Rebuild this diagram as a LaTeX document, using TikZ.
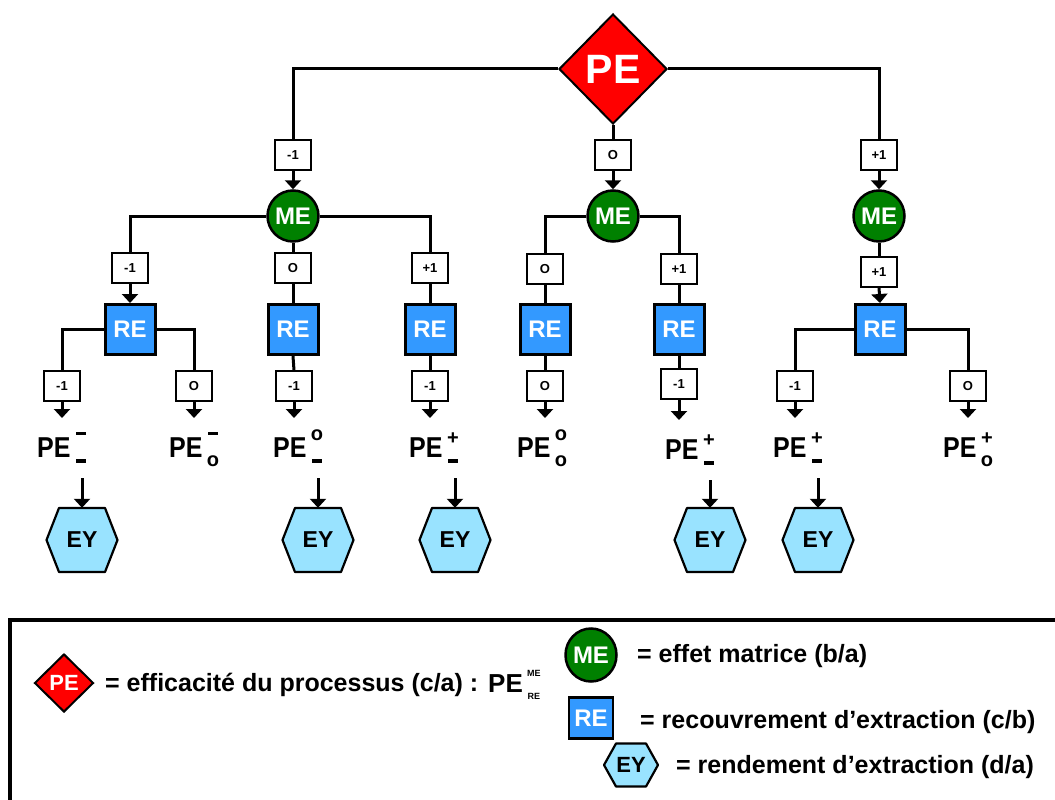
\documentclass[tikz,border=0pt]{standalone}
\usepackage{fontspec}
\setmainfont{Liberation Sans}
\usetikzlibrary{shapes.geometric,arrows.meta}
\definecolor{pered}{HTML}{FF0000}
\definecolor{megreen}{HTML}{008000}
\definecolor{reblue}{HTML}{3399FF}
\definecolor{eyblue}{HTML}{99E3FF}
\newcommand\fsz[1]{\fontsize{#1pt}{#1pt}\selectfont\bfseries}
\newcommand\supsub[2]{\makebox[11pt]{#1}\llap{\makebox[11pt]{#2}}}
\newcommand\Sdash{\raisebox{22pt}[0pt][0pt]{\rule{10pt}{3.5pt}}}
\newcommand\Bdash{\raisebox{-6pt}[0pt][0pt]{\rule{10pt}{4pt}}}
\newcommand\So{\raisebox{17pt}[0pt][0pt]{\fsz{20}o}}
\newcommand\Bo{\raisebox{-9pt}[0pt][0pt]{\fsz{20}o}}
\newcommand\Splus{\raisebox{13pt}[0pt][0pt]{\fsz{20}+}}
\newcommand\PEleaf[2]{\scalebox{1}[1.15]{PE}\hspace{5pt}\supsub{#1}{#2}}
\newcommand\hexpath[5]{\path[#5, shift={#1}] (-#2,0) -- (-#3,-#4) -- (#3,-#4) -- (#2,0) -- (#3,#4) -- (-#3,#4) -- cycle;}
\begin{document}
\begin{tikzpicture}[x=1pt,y=-1pt,
  ln/.style={line width=3pt},
  arr/.style={line width=3pt,-{Triangle[width=16pt,length=9pt]}},
  lab/.style={draw, line width=1.2pt, fill=white, minimum width=36pt, minimum height=30pt, inner sep=0pt, font=\fsz{13}},
  mecirc/.style={circle, draw, line width=2.5pt, fill=megreen, text=white, minimum size=51pt, inner sep=0pt, font=\fsz{24}},
  rebox/.style={rectangle, draw, line width=3pt, fill=reblue, text=white, minimum size=50pt, inner sep=0pt, font=\fsz{24}},
  eyn/.style={inner sep=0pt, minimum width=71pt, minimum height=64pt, font=\fsz{23}},
  hexline/.style={draw, line width=2.2pt, fill=eyblue, line join=round},
  leaf/.style={anchor=base west, inner sep=0pt, text height=22pt, text depth=4pt, outer ysep=17pt, font=\fsz{25}},
  legtext/.style={anchor=base west, inner sep=0pt, font=\fsz{25}},
]
\useasboundingbox (0,0) rectangle (1055,800);
\clip (0,0) rectangle (1055,800);

% ---------- top ----------
\node[diamond, draw, line width=2pt, fill=pered, text=white, minimum width=108pt, minimum height=110pt, inner sep=0pt, font=\fsz{41}] (PE) at (613,69) {PE};

\node[lab] (L1a) at (293,155) {-1};
\node[lab] (L1b) at (613,155) {O};
\node[lab] (L1c) at (879,155) {+1};

\node[mecirc] (ME1) at (293,216) {ME};
\node[mecirc] (ME2) at (613,216) {ME};
\node[mecirc] (ME3) at (879,216) {ME};

\draw[ln] (PE.west) -| (L1a.north);
\draw[arr] (L1a.south) -- (ME1.north);
\draw[ln] (PE.south) -- (L1b.north);
\draw[arr] (L1b.south) -- (ME2.north);
\draw[ln] (PE.east) -| (L1c.north);
\draw[arr] (L1c.south) -- (ME3.north);

% ---------- level 2 ----------
\node[lab] (L2a) at (130,268) {-1};
\node[lab] (L2b) at (293,268) {O};
\node[lab] (L2c) at (430,268) {+1};
\node[lab] (L2d) at (545,269) {O};
\node[lab] (L2e) at (679,269) {+1};
\node[lab] (L2f) at (879,272) {+1};

\node[rebox] (RE1) at (130,329.5) {RE};
\node[rebox] (RE2) at (293,329.5) {RE};
\node[rebox] (RE3) at (430,329.5) {RE};
\node[rebox] (RE4) at (545,329.5) {RE};
\node[rebox] (RE5) at (679,329.5) {RE};
\node[rebox] (RE6) at (880,329.5) {RE};

\draw[ln] (ME1.west) -| (L2a.north);
\draw[arr] (L2a.south) -- (RE1.north);
\draw[ln] (ME1.south) -- (L2b.north);
\draw[ln] (L2b.south) -- (RE2.north);
\draw[ln] (ME1.east) -| (L2c.north);
\draw[ln] (L2c.south) -- (RE3.north);
\draw[ln] (ME2.west) -| (L2d.north);
\draw[ln] (L2d.south) -- (RE4.north);
\draw[ln] (ME2.east) -| (L2e.north);
\draw[ln] (L2e.south) -- (RE5.north);
\draw[ln] (ME3.south) -- (L2f.north);
\draw[arr] (L2f.south) -- (RE6.north);

% ---------- level 3 ----------
\node[lab] (L3a) at (62,386) {-1};
\node[lab] (L3b) at (194,386) {O};
\node[lab] (L3c) at (294,386) {-1};
\node[lab] (L3d) at (430,386) {-1};
\node[lab] (L3e) at (545,386) {O};
\node[lab] (L3f) at (679,384) {-1};
\node[lab] (L3g) at (795,386) {-1};
\node[lab] (L3h) at (968,386) {O};

\draw[ln] (RE1.west) -| (L3a.north);
\draw[ln] (RE1.east) -| (L3b.north);
\draw[ln] (RE2.south) -- (L3c.north);
\draw[ln] (RE3.south) -- (L3d.north);
\draw[ln] (RE4.south) -- (L3e.north);
\draw[ln] (RE5.south) -- (L3f.north);
\draw[ln] (RE6.west) -| (L3g.north);
\draw[ln] (RE6.east) -| (L3h.north);

% ---------- leaves ----------
\node[leaf] (P1) at (37,457) {\PEleaf{\Sdash}{\Bdash}};
\node[leaf] (P2) at (169,457) {\PEleaf{\Sdash}{\Bo}};
\node[leaf] (P3) at (273,457) {\PEleaf{\So}{\Bdash}};
\node[leaf] (P4) at (409,457) {\PEleaf{\Splus}{\Bdash}};
\node[leaf] (P5) at (517,457) {\PEleaf{\So}{\Bo}};
\node[leaf] (P6) at (665,459) {\PEleaf{\Splus}{\Bdash}};
\node[leaf] (P7) at (773,457) {\PEleaf{\Splus}{\Bdash}};
\node[leaf] (P8) at (943,457) {\PEleaf{\Splus}{\Bo}};

\draw[arr] (L3a.south) -- (L3a |- P1.north);
\draw[arr] (L3b.south) -- (L3b |- P2.north);
\draw[arr] (L3c.south) -- (L3c |- P3.north);
\draw[arr] (L3d.south) -- (L3d |- P4.north);
\draw[arr] (L3e.south) -- (L3e |- P5.north);
\draw[arr] (L3f.south) -- (L3f |- P6.north);
\draw[arr] (L3g.south) -- (L3g |- P7.north);
\draw[arr] (L3h.south) -- (L3h |- P8.north);

% ---------- EY ----------
\hexpath{(82,540)}{35.5}{23}{32}{hexline}
\hexpath{(318,540)}{35.5}{23}{32}{hexline}
\hexpath{(455,540)}{35.5}{23}{32}{hexline}
\hexpath{(710,540)}{35.5}{23}{32}{hexline}
\hexpath{(818,540)}{35.5}{23}{32}{hexline}
\node[eyn] (EY1) at (82,540) {EY};
\node[eyn] (EY2) at (318,540) {EY};
\node[eyn] (EY3) at (455,540) {EY};
\node[eyn] (EY4) at (710,540) {EY};
\node[eyn] (EY5) at (818,540) {EY};

\draw[arr] (EY1 |- P1.south) -- (EY1.north);
\draw[arr] (EY2 |- P3.south) -- (EY2.north);
\draw[arr] (EY3 |- P4.south) -- (EY3.north);
\draw[arr] (EY4 |- P6.south) -- (EY4.north);
\draw[arr] (EY5 |- P7.south) -- (EY5.north);

% ---------- legend ----------
\draw[line width=3.5pt] (10,620) rectangle (1075,830);

\node[diamond, draw, line width=2pt, fill=pered, text=white, minimum width=59pt, minimum height=58pt, inner sep=0pt, font=\fsz{22}] (LPE) at (64,683) {PE};
\node[legtext] (TPE) at (105,691) {= efficacité du processus (c/a) :};
\node[legtext, font=\fsz{26}] (TPEs) at (488,692) {PE\hspace{3pt}\makebox[16pt]{\raisebox{16pt}[0pt][0pt]{\fsz{9}ME}}\llap{\makebox[16pt]{\raisebox{-7pt}[0pt][0pt]{\fsz{9}RE}}}};

\node[ellipse, draw, line width=2.5pt, fill=megreen, text=white, minimum width=51pt, minimum height=53pt, inner sep=0pt, font=\fsz{24}] (LME) at (591,655) {ME};
\node[legtext] (TME) at (637,662) {= effet matrice (b/a)};

\node[rectangle, draw, line width=2.5pt, fill=reblue, text=white, minimum width=44pt, minimum height=41pt, inner sep=0pt, font=\fsz{24}] (LRE) at (591,718) {RE};
\node[legtext] (TRE) at (640,728) {= recouvrement d’extraction (c/b)};

\hexpath{(631,765)}{27}{15}{21.5}{hexline}
\node[inner sep=0pt, minimum width=54pt, minimum height=43pt, font=\fsz{22}] (LEY) at (631,765) {EY};
\node[legtext] (TEY) at (676,773) {= rendement d’extraction (d/a)};
\end{tikzpicture}
\end{document}
